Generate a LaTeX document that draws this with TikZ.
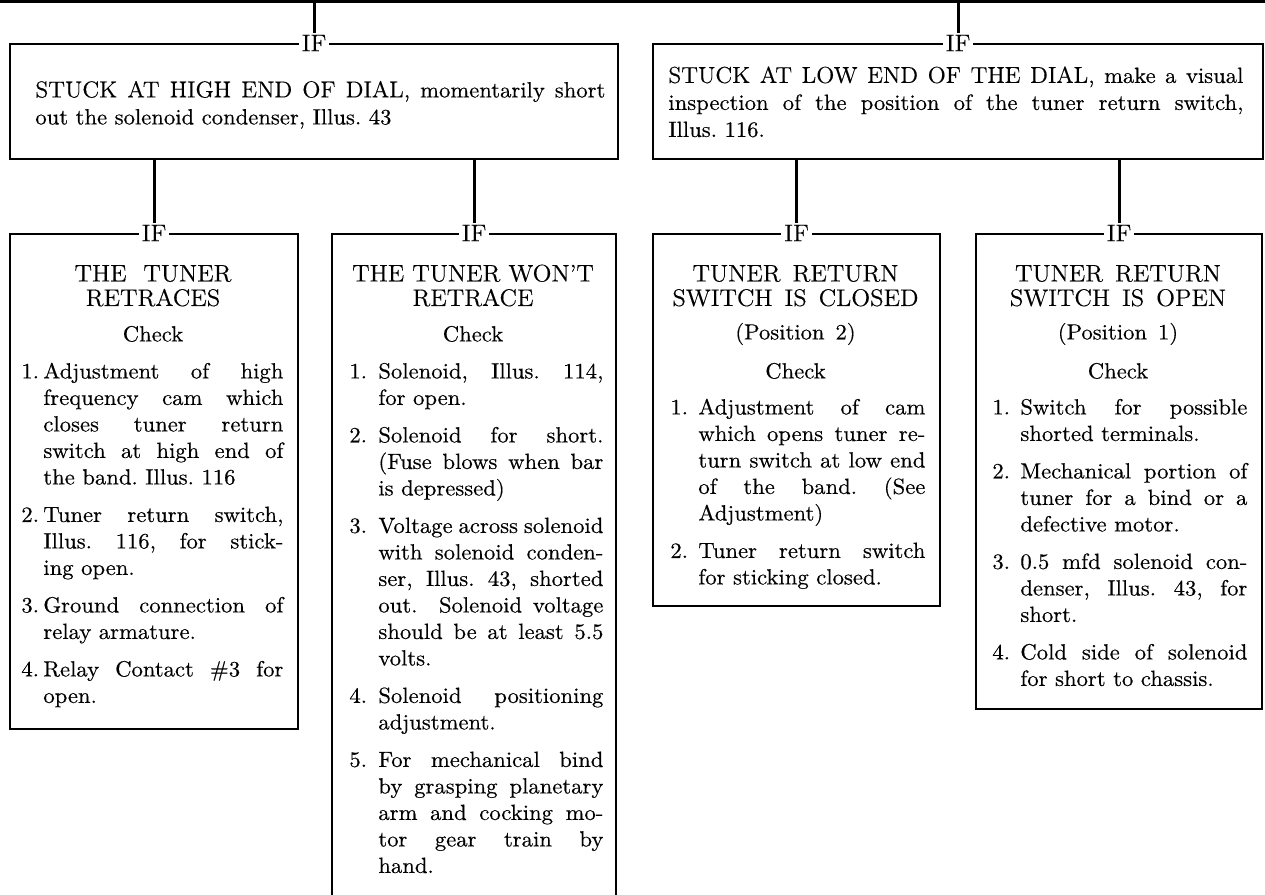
\documentclass[tikz,border=0pt]{standalone}
\usepackage{fontspec}
\setmainfont{Latin Modern Roman}[FakeBold=0.4, FakeStretch=1.03]
\usepackage{tikz}
\frenchspacing
\newlength\hangw
\newlength\itemw
\newlength\linew
\newcommand{\fitem}[2]{\makebox[\hangw][l]{#1}\makebox[\itemw][s]{#2}}
\newcommand{\jitem}[1]{\hspace*{\hangw}\makebox[\itemw][s]{#1}}
\newcommand{\litem}[1]{\hspace*{\hangw}#1}
\newcommand{\jline}[1]{\makebox[\linew][s]{#1}}
\newcommand{\capsize}{\fontsize{11.5}{13.5}\selectfont}
\tikzset{
  frame/.style={draw, line width=1.1pt, inner sep=0pt, anchor=north west},
  wire/.style={line width=1.5pt},
  iflabel/.style={fill=white, inner xsep=1.5pt, inner ysep=0.5pt, font=\fontsize{12}{12}\selectfont},
  title/.style={anchor=north, align=center, inner sep=0pt, font=\fontsize{12}{12.25}\selectfont},
  check/.style={anchor=north, inner sep=0pt, font=\fontsize{11}{13.25}\selectfont},
  lead/.style={anchor=north west, align=left, inner sep=0pt, font=\fontsize{11}{13.5}\selectfont,
    execute at begin node={\global\linew=#1\relax}},
  items/.style 2 args={anchor=north west, align=left, inner sep=0pt, font=\fontsize{11}{13.25}\selectfont,
    execute at begin node={\global\hangw=#1\relax\global\itemw=#2\relax}},
}
\begin{document}
\begin{tikzpicture}[x=0.5pt, y=-0.5pt]
\useasboundingbox (0,0) rectangle (1265,895);
\clip (0,0) rectangle (1265,895);
\coordinate (railw) at (0,1.5);
\coordinate (raile) at (1265,1.5);
\draw[wire] (railw) -- (raile);

\node[frame, minimum width=304pt, minimum height=57.5pt] (high) at (9,43) {};
\node[frame, minimum width=305pt, minimum height=57.5pt] (low) at (652,43) {};
\node[frame, minimum width=144pt, minimum height=247.5pt] (retr) at (9,233) {};
\node[frame, minimum width=142pt, minimum height=340pt] (noretr) at (331,233) {};
\node[frame, minimum width=143.5pt, minimum height=186pt] (closed) at (652,233) {};
\node[frame, minimum width=143pt, minimum height=237.5pt] (open) at (975,233) {};

\foreach \b in {high,low,retr,noretr,closed,open}
  \node[iflabel] (if\b) at (\b.north) {IF};
\foreach \b in {high,low}
  \draw[wire] (if\b.north |- railw) -- (if\b.north);
\foreach \p/\c in {high/retr, high/noretr, low/closed, low/open}
  \draw[wire] (if\c.north |- \p.south) -- (if\c.north);

\node[lead=285pt] (hightext) at (35,78.1) {\strut\jline{{\capsize STUCK AT HIGH END OF DIAL,} momentarily short}\\
  out the solenoid condenser, Illus. 43};
\node[lead=287.5pt] (lowtext) at (668,63.6) {\strut\jline{{\capsize STUCK AT LOW END OF THE DIAL,} make a visual}\\
  \jline{inspection of the position of the tuner return switch,}\\
  Illus. 116.};

\node[title] (retrtitle) at (153,263.9) {\strut THE\hspace{0.7em}TUNER\\RETRACES};
\node[check] (retrcheck) at (153,322.5) {\strut Check};
\node[items={11pt}{120pt}] (retritems) at (21,359.5) {\strut\fitem{1.}{Adjustment of high}\\
  \jitem{frequency cam which}\\
  \jitem{closes tuner return}\\
  \jitem{switch at high end of}\\
  \litem{the band. Illus. 116}\\[5.5pt]
  \fitem{2.}{Tuner return switch,}\\
  \jitem{Illus. 116, for stick-}\\
  \litem{ing open.}\\[5.5pt]
  \fitem{3.}{Ground connection of}\\
  \litem{relay armature.}\\[5.5pt]
  \fitem{4.}{Relay Contact \#3 for}\\
  \litem{open.}};

\node[title] (noretrtitle) at (473,263.9) {\strut THE TUNER WON'T\\RETRACE};
\node[check] (noretrcheck) at (473,322.5) {\strut Check};
\node[items={14.5pt}{112.5pt}] (noretritems) at (349,359.5) {\strut\fitem{1.}{Solenoid, Illus. 114,}\\
  \litem{for open.}\\[5.5pt]
  \fitem{2.}{Solenoid for short.}\\
  \jitem{(Fuse blows when bar}\\
  \litem{is depressed)}\\[5.5pt]
  \fitem{3.}{Voltage across solenoid}\\
  \jitem{with solenoid conden-}\\
  \jitem{ser, Illus. 43, shorted}\\
  \jitem{out.\ \ Solenoid voltage}\\
  \jitem{should be at least 5.5}\\
  \litem{volts.}\\[5.5pt]
  \fitem{4.}{Solenoid positioning}\\
  \litem{adjustment.}\\[5.5pt]
  \fitem{5.}{For mechanical bind}\\
  \jitem{by grasping planetary}\\
  \jitem{arm and cocking mo-}\\
  \jitem{tor gear train by}\\
  \litem{hand.}};

\node[title] (closedtitle) at (795.5,263.9) {\strut TUNER\enspace RETURN\\SWITCH\enspace IS\enspace CLOSED};
\node[check] (closedpos) at (795.5,320.5) {\strut(Position\enspace 2)};
\node[check] (closedcheck) at (795.5,359.5) {\strut Check};
\node[items={14pt}{113.5pt}] (closeditems) at (670,395.5) {\strut\fitem{1.}{Adjustment of cam}\\
  \jitem{which opens tuner re-}\\
  \jitem{turn switch at low end}\\
  \jitem{of the band. (See}\\
  \litem{Adjustment)}\\[5.5pt]
  \fitem{2.}{Tuner return switch}\\
  \litem{for sticking closed.}};

\node[title] (opentitle) at (1118,263.9) {\strut TUNER\enspace RETURN\\SWITCH\enspace IS\enspace OPEN};
\node[check] (openpos) at (1118,320.5) {\strut(Position\enspace 1)};
\node[check] (opencheck) at (1118,359.5) {\strut Check};
\node[items={14pt}{113.5pt}] (openitems) at (992,395.5) {\strut\fitem{1.}{Switch for possible}\\
  \litem{shorted terminals.}\\[5.5pt]
  \fitem{2.}{Mechanical portion of}\\
  \jitem{tuner for a bind or a}\\
  \litem{defective motor.}\\[5.5pt]
  \fitem{3.}{0.5 mfd solenoid con-}\\
  \jitem{denser, Illus. 43, for}\\
  \litem{short.}\\[5.5pt]
  \fitem{4.}{Cold side of solenoid}\\
  \litem{for short to chassis.}};
\end{tikzpicture}
\end{document}
